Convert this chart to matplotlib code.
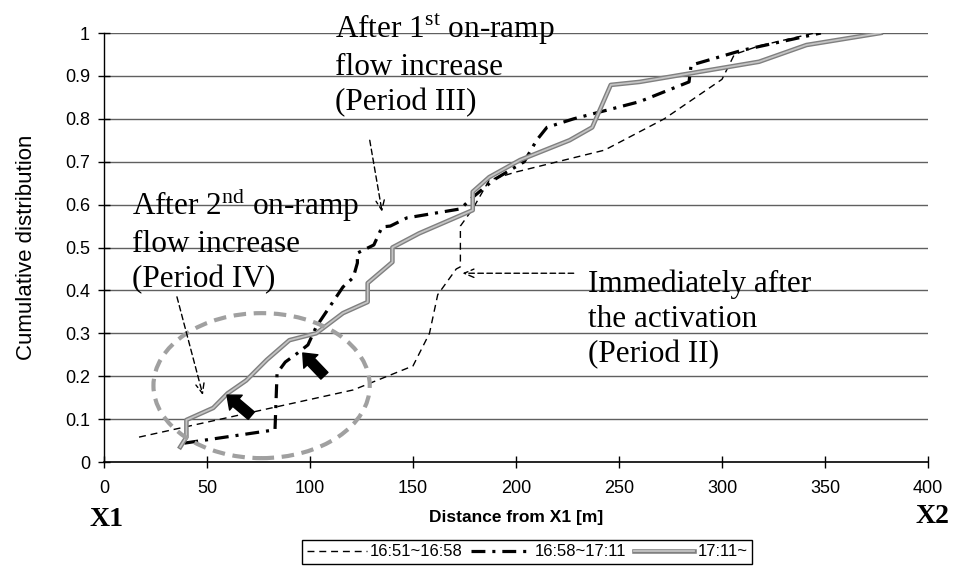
import numpy as np
import matplotlib
matplotlib.use('Agg')
import matplotlib.pyplot as plt
from matplotlib import patches
import matplotlib.patheffects as pe
from matplotlib import font_manager

## cumulative distribution of activation location (three periods)

plt.rcParams['lines.scale_dashes'] = False
plt.rcParams['mathtext.fontset'] = 'custom'
plt.rcParams['mathtext.rm'] = 'Liberation Serif'

names = set(f.name for f in font_manager.fontManager.ttflist)
sans = 'Liberation Sans'
narrow = ['Liberation Sans Narrow', 'Liberation Sans'] if 'Liberation Sans Narrow' in names else ['Liberation Sans']
serif = 'Liberation Serif'

# 16:51~16:58 (Period II)
x_p2 = [17, 121, 150, 158, 162, 171, 173, 173, 179, 187, 200, 243, 272, 300, 306, 318, 345]
y_p2 = [0.058, 0.168, 0.224, 0.30, 0.39, 0.45, 0.455, 0.55, 0.59, 0.657, 0.676, 0.727, 0.80, 0.892, 0.95, 0.97, 1.0]

# 16:58~17:11 (Period III)
x_p3 = [39, 83, 84, 88, 94, 99, 103, 116, 121, 123, 123, 131, 135, 139, 147, 173, 179, 189,
        204, 210, 215, 228, 260, 284, 285, 310, 348]
y_p3 = [0.044, 0.075, 0.207, 0.233, 0.254, 0.273, 0.315, 0.408, 0.43, 0.464, 0.487, 0.506, 0.548,
        0.55, 0.569, 0.59, 0.617, 0.657, 0.70, 0.75, 0.78, 0.80, 0.84, 0.886, 0.925, 0.96, 1.0]

# 17:11~ (Period IV)
x_p4 = [37, 40, 40, 53, 60, 69, 79, 90, 103, 116, 128, 128, 140, 140, 153, 179, 179, 187,
        202, 226, 237, 246, 260, 318, 341, 377]
y_p4 = [0.035, 0.058, 0.098, 0.126, 0.16, 0.19, 0.238, 0.284, 0.30, 0.347, 0.373, 0.417, 0.466,
        0.50, 0.533, 0.587, 0.63, 0.664, 0.704, 0.75, 0.78, 0.879, 0.886, 0.933, 0.972, 1.0]

labels = ['16:51~16:58', '16:58~17:11', '17:11~']
xticks = np.arange(0, 401, 50)
yticks = np.round(np.arange(0, 1.01, 0.1), 1)
ytick_labels = ['0', '0.1', '0.2', '0.3', '0.4', '0.5', '0.6', '0.7', '0.8', '0.9', '1']

fig = plt.figure(figsize=(9.56, 5.72), dpi=100)
ax = fig.add_axes([0.1088, 0.1923, 0.8619, 0.75])

for yv in yticks[1:]:
    ax.axhline(yv, color='#606060', lw=1, zorder=0)

ax.plot(x_p2, y_p2, color='black', lw=1, dashes=(5, 3.5), label=labels[0], zorder=3)
ax.plot(x_p3, y_p3, color='black', lw=2.3, dashes=(10, 5, 2.2, 5), label=labels[1], zorder=3)
ax.plot(x_p4, y_p4, color='#c4c4c4', lw=1.3, label=labels[2], zorder=4,
        path_effects=[pe.Stroke(linewidth=3.3, foreground='#808080'), pe.Normal()])

# circled region
ell = patches.Ellipse((76.5, 0.178), 105, 0.338, fill=False, edgecolor='#a0a0a0',
                      lw=3, linestyle=(0, (9, 5.5)), zorder=5)
ax.add_patch(ell)

# block arrows
for tip, tail in [((59.7, 0.156), (71.5, 0.108)), ((96.5, 0.254), (107, 0.201))]:
    ax.annotate('', xy=tip, xytext=tail,
                arrowprops=dict(arrowstyle='simple,head_length=0.6,head_width=1.0,tail_width=0.5',
                                fc='black', ec='black', shrinkA=0, shrinkB=0, mutation_scale=14),
                zorder=6)

# dashed pointer arrows
for tip, tail in [((135, 0.583), (129, 0.75)), ((48, 0.156), (35.4, 0.385)),
                  ((174, 0.44), (228, 0.44))]:
    ax.annotate('', xy=tip, xytext=tail,
                arrowprops=dict(arrowstyle='->,head_length=0.7,head_width=0.3', color='black',
                                lw=1, linestyle=(0, (4, 2.5)), shrinkA=0, shrinkB=0),
                zorder=6)

# baseline of the last line of each note
tfs = 22.5
tls = 1.26
ax.text(112, 0.8205, 'After 1$^{\\mathrm{st}}$ on-ramp\nflow increase\n(Period III)', family=serif,
        fontsize=tfs, va='baseline', ha='left', linespacing=tls, clip_on=False)
ax.text(13.6, 0.408, 'After 2$^{\\mathrm{nd}}$ on-ramp\nflow increase\n(Period IV)', family=serif,
        fontsize=tfs, va='baseline', ha='left', linespacing=tls)
ax.text(235, 0.233, 'Immediately after\nthe activation\n(Period II)', family=serif,
        fontsize=tfs, va='baseline', ha='left', linespacing=tls)

ax.set_xlim(0, 400)
ax.set_ylim(0, 1)
ax.set_xticks(xticks)
ax.set_yticks(yticks)
ax.set_yticklabels(ytick_labels)
for s in ['top', 'right']:
    ax.spines[s].set_visible(False)
ax.spines['left'].set_linewidth(1)
ax.spines['bottom'].set_linewidth(1.2)
ax.tick_params(direction='inout', length=8.5, width=1, labelsize=13)
ax.tick_params(axis='x', pad=8.7)
ax.tick_params(axis='y', pad=5.8)
for t in ax.get_xticklabels() + ax.get_yticklabels():
    t.set_family(narrow)

ax.set_ylabel('Cumulative distribution', family=sans, fontsize=16)
ax.yaxis.set_label_coords(-0.0813, 0.5)
ax.set_xlabel('Distance from X1 [m]', family=narrow, fontsize=12.5, fontweight='bold')
ax.xaxis.set_label_coords(0.5, -0.112)

fig.text(107 / 956, 1 - 526 / 572, 'X1', family=serif, fontsize=20, fontweight='bold',
         ha='center', va='baseline')
fig.text(933 / 956, 1 - 523 / 572, 'X2', family=serif, fontsize=20, fontweight='bold',
         ha='center', va='baseline')

fig.legend(loc='center', bbox_to_anchor=(527 / 956, 1 - 552 / 572), ncol=3,
           prop={'family': narrow, 'size': 12}, frameon=True, fancybox=False, edgecolor='black',
           framealpha=1, handlelength=3.6, handletextpad=0.2, columnspacing=0.5,
           borderpad=0.25, borderaxespad=0)

fig.savefig('out.png', dpi=100)
